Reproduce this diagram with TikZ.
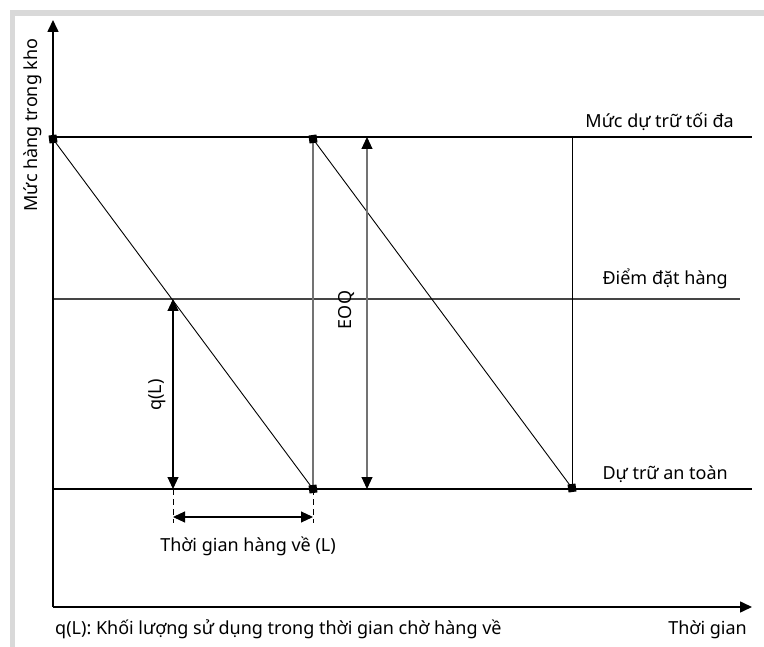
\documentclass[tikz,border=0pt]{standalone}
\usepackage{fontspec}
\setmainfont{Noto Sans}
\usepackage{tikz}
\usetikzlibrary{arrows.meta,calc,positioning}
\definecolor{rahmengrau}{rgb}{0.85,0.85,0.85}
\definecolor{liniegrau}{rgb}{0.45,0.45,0.45}
\tikzset{
  achse/.style={line width=1.6pt,-{Triangle[length=12pt,width=11pt]}},
  niveau/.style={line width=1.1pt},
  pfeil/.style={line width=1.1pt,{Triangle[length=12pt,width=11pt,color=black]}-{Triangle[length=12pt,width=11pt,color=black]}},
  marke/.style={fill=black,inner sep=0pt,minimum size=8pt,rotate=8},
  txt/.style={font=\fontsize{18}{20}\selectfont,inner sep=0pt}
}
\begin{document}
\begin{tikzpicture}[x=1pt,y=-1pt,>=Latex]
  \useasboundingbox (0,0) rectangle (764,647);
  % Rahmen oben und links
  \fill[rahmengrau] (10,10) rectangle (764,16);
  \fill[rahmengrau] (10,10) rectangle (15,647);
  % Punkte
  \coordinate (O) at (53,607);
  \coordinate (ytop) at (53,20);
  \coordinate (xend) at (752,607);
  \coordinate (max0) at (53,139);
  \coordinate (max1) at (313,139);
  \coordinate (min1) at (313,489);
  \coordinate (max2) at (572,138);
  \coordinate (min2) at (572,488);
  \coordinate (bp) at (173,299);
  \coordinate (bpu) at (173,489);
  % Niveaus
  \draw[niveau] (53,137) -- (752,137);
  \draw[niveau,liniegrau!60!black] (53,299) -- (740,299);
  \draw[niveau] (53,489) -- (752,489);
  % Achsen
  \draw[achse] (O) -- (ytop);
  \draw[achse] (O) -- (xend);
  % Lagerverlauf
  \draw[line width=0.9pt] (max0) -- (min1);
  \draw[line width=1.6pt,liniegrau] (max1) -- (min1);
  \draw[line width=0.9pt] (max1) -- (min2);
  \draw[line width=0.9pt] (max2) -- (min2);
  \foreach \p in {max0,max1,min1,min2} \node[marke] at (\p) {};
  % q(L), EOQ, L
  \draw[pfeil] (bpu) -- (bp);
  \draw[pfeil,liniegrau] (367,489) -- (367,137);
  \draw[line width=1pt,dash pattern=on 6pt off 4pt] (bpu) -- ++(0,34) coordinate (l0);
  \draw[line width=1pt,dash pattern=on 6pt off 4pt] (min1) -- ++(0,34) coordinate (l1);
  \draw[pfeil] ($(l0)+(0,-6)$) -- ($(l1)+(0,-6)$);
  % Beschriftungen
  \node[txt,rotate=90] (ylab) at (33,125) {Mức hàng trong kho};
  \node[txt,rotate=90] (qlab) at (157,395) {q(L)};
  \node[txt,rotate=90] (eoq) at (347,310) {EOQ};
  \node[txt,anchor=base] (llab) at (248,551) {Thời gian hàng về (L)};
  \node[txt,anchor=base east] (maxlab) at (734,128) {Mức dự trữ tối đa};
  \node[txt,anchor=base east] (bplab) at (728,285) {Điểm đặt hàng};
  \node[txt,anchor=base east] (sslab) at (728,479) {Dự trữ an toàn};
  \node[txt,anchor=base west] (fuss) at (55,634) {q(L): Khối lượng sử dụng trong thời gian chờ hàng về};
  \node[txt,anchor=base east] (xlab) at (747,634) {Thời gian};
\end{tikzpicture}
\end{document}
